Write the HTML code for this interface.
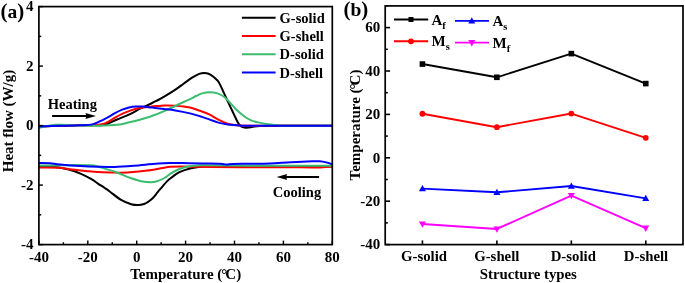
<!DOCTYPE html>
<html><head><meta charset="utf-8"><style>
html,body{margin:0;padding:0;background:#fff;width:685px;height:283px;overflow:hidden}
svg{display:block;will-change:transform}
.t{font-family:"Liberation Serif",serif;font-weight:bold;font-size:15px;fill:#000}
.s{font-size:10.5px}
.pp{font-size:21px}
.p{font-family:"Liberation Serif",serif;font-weight:bold;font-size:19.5px;fill:#000}
.l{font-family:"Liberation Serif",serif;font-weight:bold;font-size:14.5px;fill:#000}
</style></head><body>
<svg width="685" height="283" viewBox="0 0 685 283">
<path d="M39.00,166.00 C40.83,166.07 46.63,166.15 50.00,166.40 C53.37,166.65 55.90,166.93 59.20,167.50 C62.50,168.07 66.27,168.78 69.80,169.80 C73.33,170.82 76.87,172.08 80.40,173.60 C83.93,175.12 88.07,177.23 91.00,178.90 C93.93,180.57 95.72,182.08 98.00,183.60 C100.28,185.12 102.70,186.65 104.70,188.00 C106.70,189.35 107.35,189.77 110.00,191.70 C112.65,193.63 117.07,197.52 120.60,199.60 C124.13,201.68 128.20,203.30 131.20,204.20 C134.20,205.10 136.47,205.03 138.60,205.00 C140.73,204.97 142.58,204.42 144.00,204.00 C145.42,203.58 145.70,203.42 147.10,202.50 C148.50,201.58 150.63,200.22 152.40,198.50 C154.17,196.78 155.93,194.32 157.70,192.20 C159.47,190.08 161.42,187.65 163.00,185.80 C164.58,183.95 165.88,182.40 167.20,181.10 C168.52,179.80 168.87,179.48 170.90,178.00 C172.93,176.52 176.22,173.78 179.40,172.20 C182.58,170.62 186.82,169.37 190.00,168.50 C193.18,167.63 195.17,167.37 198.50,167.00 C201.83,166.63 201.42,166.42 210.00,166.30 C218.58,166.18 229.67,166.28 250.00,166.30 C270.33,166.32 318.33,166.38 332.00,166.40" fill="none" stroke="#000000" stroke-width="2" stroke-linejoin="round"/>
<path d="M39.00,167.50 C42.37,167.53 54.07,167.40 59.20,167.70 C64.33,168.00 65.38,168.77 69.80,169.30 C74.22,169.83 81.00,170.45 85.70,170.90 C90.40,171.35 93.22,171.73 98.00,172.00 C102.78,172.27 110.73,172.38 114.40,172.50 C118.07,172.62 116.42,172.83 120.00,172.70 C123.58,172.57 130.60,172.13 135.90,171.70 C141.20,171.27 147.38,170.72 151.80,170.10 C156.22,169.48 159.22,168.55 162.40,168.00 C165.58,167.45 167.37,167.03 170.90,166.80 C174.43,166.57 179.58,166.60 183.60,166.60 C187.62,166.60 190.60,166.73 195.00,166.80 C199.40,166.87 202.50,166.93 210.00,167.00 C217.50,167.07 225.00,167.15 240.00,167.20 C255.00,167.25 287.00,167.27 300.00,167.30 C313.00,167.33 312.67,167.53 318.00,167.40 C323.33,167.27 329.67,166.65 332.00,166.50" fill="none" stroke="#ff0000" stroke-width="2" stroke-linejoin="round"/>
<path d="M39.00,165.60 C42.50,165.55 54.00,165.38 60.00,165.30 C66.00,165.22 70.00,165.10 75.00,165.10 C80.00,165.10 86.33,165.12 90.00,165.30 C93.67,165.48 94.55,165.65 97.00,166.20 C99.45,166.75 101.80,167.72 104.70,168.60 C107.60,169.48 111.85,170.63 114.40,171.50 C116.95,172.37 117.30,172.72 120.00,173.80 C122.70,174.88 127.07,176.77 130.60,178.00 C134.13,179.23 137.83,180.50 141.20,181.20 C144.57,181.90 148.15,182.20 150.80,182.20 C153.45,182.20 154.82,181.90 157.10,181.20 C159.38,180.50 162.20,179.32 164.50,178.00 C166.80,176.68 168.42,174.80 170.90,173.30 C173.38,171.80 176.57,170.15 179.40,169.00 C182.23,167.85 184.80,167.00 187.90,166.40 C191.00,165.80 195.15,165.58 198.00,165.40 C200.85,165.22 194.67,165.25 205.00,165.30 C215.33,165.35 238.83,165.63 260.00,165.70 C281.17,165.77 320.00,165.70 332.00,165.70" fill="none" stroke="#3cbc6e" stroke-width="2" stroke-linejoin="round"/>
<path d="M39.00,163.00 C40.83,163.03 46.50,162.95 50.00,163.20 C53.50,163.45 54.93,164.02 60.00,164.50 C65.07,164.98 74.07,165.72 80.40,166.10 C86.73,166.48 92.33,166.67 98.00,166.80 C103.67,166.93 108.43,167.08 114.40,166.90 C120.37,166.72 127.03,166.22 133.80,165.70 C140.57,165.18 149.07,164.27 155.00,163.80 C160.93,163.33 163.77,163.00 169.40,162.90 C175.03,162.80 182.87,163.10 188.80,163.20 C194.73,163.30 199.80,163.40 205.00,163.50 C210.20,163.60 216.38,163.65 220.00,163.80 C223.62,163.95 224.53,164.38 226.70,164.40 C228.87,164.42 229.12,164.00 233.00,163.90 C236.88,163.80 243.83,163.87 250.00,163.80 C256.17,163.73 263.13,163.77 270.00,163.50 C276.87,163.23 284.13,162.57 291.20,162.20 C298.27,161.83 307.63,161.45 312.40,161.30 C317.17,161.15 317.50,161.12 319.80,161.30 C322.10,161.48 324.17,161.93 326.20,162.40 C328.23,162.87 331.03,163.82 332.00,164.10" fill="none" stroke="#0000ff" stroke-width="2" stroke-linejoin="round"/>
<path d="M39.00,126.40 C42.50,126.30 53.17,125.98 60.00,125.80 C66.83,125.62 73.57,125.38 80.00,125.30 C86.43,125.22 94.47,125.42 98.60,125.30 C102.73,125.18 101.72,125.57 104.80,124.60 C107.88,123.63 112.98,121.22 117.10,119.50 C121.22,117.78 125.58,116.15 129.50,114.30 C133.42,112.45 136.98,110.20 140.60,108.40 C144.22,106.60 148.45,104.82 151.20,103.50 C153.95,102.18 154.95,101.63 157.10,100.50 C159.25,99.37 161.05,98.52 164.10,96.70 C167.15,94.88 172.10,91.80 175.40,89.60 C178.70,87.40 181.12,85.48 183.90,83.50 C186.68,81.52 189.57,79.30 192.10,77.70 C194.63,76.10 196.98,74.70 199.10,73.90 C201.22,73.10 202.92,72.78 204.80,72.90 C206.68,73.02 208.28,73.33 210.40,74.60 C212.52,75.87 215.82,78.67 217.50,80.50 C219.18,82.33 219.42,83.48 220.50,85.60 C221.58,87.72 222.75,90.50 224.00,93.20 C225.25,95.90 226.67,98.95 228.00,101.80 C229.33,104.65 230.67,107.47 232.00,110.30 C233.33,113.13 234.85,116.48 236.00,118.80 C237.15,121.12 237.98,122.90 238.90,124.20 C239.82,125.50 240.57,126.05 241.50,126.60 C242.43,127.15 243.42,127.33 244.50,127.50 C245.58,127.67 246.60,127.72 248.00,127.60 C249.40,127.48 250.90,127.07 252.90,126.80 C254.90,126.53 256.32,126.18 260.00,126.00 C263.68,125.82 263.00,125.73 275.00,125.70 C287.00,125.67 322.50,125.78 332.00,125.80" fill="none" stroke="#000000" stroke-width="2" stroke-linejoin="round"/>
<path d="M39.00,126.40 C42.50,126.30 53.17,125.98 60.00,125.80 C66.83,125.62 74.60,125.40 80.00,125.30 C85.40,125.20 88.27,125.52 92.40,125.20 C96.53,124.88 101.03,124.67 104.80,123.40 C108.57,122.13 112.12,119.18 115.00,117.60 C117.88,116.02 119.75,114.98 122.10,113.90 C124.45,112.82 126.75,111.97 129.10,111.10 C131.45,110.23 133.83,109.28 136.20,108.70 C138.57,108.12 140.95,107.93 143.30,107.60 C145.65,107.27 148.02,106.95 150.30,106.70 C152.58,106.45 154.70,106.28 157.00,106.10 C159.30,105.92 161.03,105.65 164.10,105.60 C167.17,105.55 171.08,105.47 175.40,105.80 C179.72,106.13 185.90,106.77 190.00,107.60 C194.10,108.43 196.80,109.68 200.00,110.80 C203.20,111.92 206.13,112.82 209.20,114.30 C212.27,115.78 215.33,118.13 218.40,119.70 C221.47,121.27 224.53,122.77 227.60,123.70 C230.67,124.63 233.73,124.95 236.80,125.30 C239.87,125.65 242.13,125.72 246.00,125.80 C249.87,125.88 245.67,125.80 260.00,125.80 C274.33,125.80 320.00,125.80 332.00,125.80" fill="none" stroke="#ff0000" stroke-width="2" stroke-linejoin="round"/>
<path d="M39.00,128.00 C40.17,127.72 43.33,126.83 46.00,126.30 C48.67,125.77 51.83,125.02 55.00,124.80 C58.17,124.58 60.83,124.88 65.00,125.00 C69.17,125.12 74.40,125.38 80.00,125.50 C85.60,125.62 92.42,125.82 98.60,125.70 C104.78,125.58 111.95,125.37 117.10,124.80 C122.25,124.23 125.68,123.15 129.50,122.30 C133.32,121.45 136.38,120.70 140.00,119.70 C143.62,118.70 147.18,117.73 151.20,116.30 C155.22,114.87 159.58,113.07 164.10,111.10 C168.62,109.13 173.98,106.50 178.30,104.50 C182.62,102.50 187.05,100.52 190.00,99.10 C192.95,97.68 194.00,96.95 196.00,96.00 C198.00,95.05 199.72,94.03 202.00,93.40 C204.28,92.77 207.12,92.20 209.70,92.20 C212.28,92.20 214.95,92.52 217.50,93.40 C220.05,94.28 222.00,94.95 225.00,97.50 C228.00,100.05 232.25,105.53 235.50,108.70 C238.75,111.87 241.92,114.57 244.50,116.50 C247.08,118.43 248.75,119.32 251.00,120.30 C253.25,121.28 255.50,121.80 258.00,122.40 C260.50,123.00 263.20,123.48 266.00,123.90 C268.80,124.32 271.97,124.60 274.80,124.90 C277.63,125.20 273.47,125.55 283.00,125.70 C292.53,125.85 323.83,125.78 332.00,125.80" fill="none" stroke="#3cbc6e" stroke-width="2" stroke-linejoin="round"/>
<path d="M39.00,126.40 C42.50,126.30 53.17,125.98 60.00,125.80 C66.83,125.62 74.60,125.53 80.00,125.30 C85.40,125.07 88.55,125.32 92.40,124.40 C96.25,123.48 100.33,121.08 103.10,119.80 C105.87,118.52 107.02,117.80 109.00,116.70 C110.98,115.60 112.82,114.37 115.00,113.20 C117.18,112.03 119.75,110.67 122.10,109.70 C124.45,108.73 126.75,107.93 129.10,107.40 C131.45,106.87 133.83,106.63 136.20,106.50 C138.57,106.37 140.95,106.45 143.30,106.60 C145.65,106.75 148.35,107.18 150.30,107.40 C152.25,107.62 152.70,107.63 155.00,107.90 C157.30,108.17 160.70,108.57 164.10,109.00 C167.50,109.43 171.08,109.77 175.40,110.50 C179.72,111.23 185.90,112.45 190.00,113.40 C194.10,114.35 196.80,115.20 200.00,116.20 C203.20,117.20 206.13,118.33 209.20,119.40 C212.27,120.47 215.33,121.77 218.40,122.60 C221.47,123.43 224.00,123.92 227.60,124.40 C231.20,124.88 236.27,125.27 240.00,125.50 C243.73,125.73 234.67,125.75 250.00,125.80 C265.33,125.85 318.33,125.80 332.00,125.80" fill="none" stroke="#0000ff" stroke-width="2" stroke-linejoin="round"/>
<rect x="38.9" y="6.6" width="293.4" height="238.0" fill="none" stroke="#000" stroke-width="1.7"/>
<line x1="38.90" y1="244.6" x2="38.90" y2="240.60" stroke="#000" stroke-width="1.45"/>
<text x="38.90" y="261.5" text-anchor="middle" class="t">-40</text>
<line x1="63.35" y1="244.6" x2="63.35" y2="242.30" stroke="#000" stroke-width="1.45"/>
<line x1="87.80" y1="244.6" x2="87.80" y2="240.60" stroke="#000" stroke-width="1.45"/>
<text x="87.80" y="261.5" text-anchor="middle" class="t">-20</text>
<line x1="112.25" y1="244.6" x2="112.25" y2="242.30" stroke="#000" stroke-width="1.45"/>
<line x1="136.70" y1="244.6" x2="136.70" y2="240.60" stroke="#000" stroke-width="1.45"/>
<text x="136.70" y="261.5" text-anchor="middle" class="t">0</text>
<line x1="161.15" y1="244.6" x2="161.15" y2="242.30" stroke="#000" stroke-width="1.45"/>
<line x1="185.60" y1="244.6" x2="185.60" y2="240.60" stroke="#000" stroke-width="1.45"/>
<text x="185.60" y="261.5" text-anchor="middle" class="t">20</text>
<line x1="210.05" y1="244.6" x2="210.05" y2="242.30" stroke="#000" stroke-width="1.45"/>
<line x1="234.50" y1="244.6" x2="234.50" y2="240.60" stroke="#000" stroke-width="1.45"/>
<text x="234.50" y="261.5" text-anchor="middle" class="t">40</text>
<line x1="258.95" y1="244.6" x2="258.95" y2="242.30" stroke="#000" stroke-width="1.45"/>
<line x1="283.40" y1="244.6" x2="283.40" y2="240.60" stroke="#000" stroke-width="1.45"/>
<text x="283.40" y="261.5" text-anchor="middle" class="t">60</text>
<line x1="307.85" y1="244.6" x2="307.85" y2="242.30" stroke="#000" stroke-width="1.45"/>
<line x1="332.30" y1="244.6" x2="332.30" y2="240.60" stroke="#000" stroke-width="1.45"/>
<text x="332.30" y="261.5" text-anchor="middle" class="t">80</text>
<line x1="38.9" y1="244.60" x2="42.90" y2="244.60" stroke="#000" stroke-width="1.45"/>
<text x="33.5" y="249.40" text-anchor="end" class="t">-4</text>
<line x1="38.9" y1="214.85" x2="41.20" y2="214.85" stroke="#000" stroke-width="1.45"/>
<line x1="38.9" y1="185.10" x2="42.90" y2="185.10" stroke="#000" stroke-width="1.45"/>
<text x="33.5" y="189.90" text-anchor="end" class="t">-2</text>
<line x1="38.9" y1="155.35" x2="41.20" y2="155.35" stroke="#000" stroke-width="1.45"/>
<line x1="38.9" y1="125.60" x2="42.90" y2="125.60" stroke="#000" stroke-width="1.45"/>
<text x="33.5" y="130.40" text-anchor="end" class="t">0</text>
<line x1="38.9" y1="95.85" x2="41.20" y2="95.85" stroke="#000" stroke-width="1.45"/>
<line x1="38.9" y1="66.10" x2="42.90" y2="66.10" stroke="#000" stroke-width="1.45"/>
<text x="33.5" y="70.90" text-anchor="end" class="t">2</text>
<line x1="38.9" y1="36.35" x2="41.20" y2="36.35" stroke="#000" stroke-width="1.45"/>
<line x1="38.9" y1="6.60" x2="42.90" y2="6.60" stroke="#000" stroke-width="1.45"/>
<text x="33.5" y="11.40" text-anchor="end" class="t">4</text>
<text x="185.7" y="279.1" text-anchor="middle" class="t">Temperature (<tspan dx="-1">&#176;</tspan><tspan dx="-2">C</tspan>)</text>
<text transform="translate(13.3,121) rotate(-90)" text-anchor="middle" class="t">Heat flow (W/g)</text>
<text x="0.6" y="17.5" class="p"><tspan class="pp">(</tspan>a<tspan class="pp">)</tspan></text>
<line x1="241.9" y1="17.75" x2="275.6" y2="17.75" stroke="#000000" stroke-width="2"/>
<text x="279.6" y="22.60" class="l">G-solid</text>
<line x1="241.9" y1="36.05" x2="275.6" y2="36.05" stroke="#ff0000" stroke-width="2"/>
<text x="279.6" y="41.00" class="l">G-shell</text>
<line x1="241.9" y1="54.30" x2="275.6" y2="54.30" stroke="#3cbc6e" stroke-width="2"/>
<text x="279.6" y="59.40" class="l">D-solid</text>
<line x1="241.9" y1="72.60" x2="275.6" y2="72.60" stroke="#0000ff" stroke-width="2"/>
<text x="279.6" y="77.80" class="l">D-shell</text>
<text x="47.8" y="109.1" class="l">Heating</text>
<line x1="52.1" y1="115.9" x2="88" y2="115.9" stroke="#000" stroke-width="2"/>
<path d="M96,115.9 L85.4,112.9 L86.6,115.9 L85.4,118.9 Z" fill="#000"/>
<text x="272.8" y="196.6" class="l">Cooling</text>
<line x1="283" y1="177.1" x2="319.1" y2="177.1" stroke="#000" stroke-width="2"/>
<path d="M276.6,177.1 L287.2,174.1 L286,177.1 L287.2,180.1 Z" fill="#000"/>
<polyline points="422.43,64.06 496.88,77.29 571.33,53.64 645.77,83.59" fill="none" stroke="#000000" stroke-width="1.9" stroke-linejoin="round"/>
<rect x="419.62" y="61.26" width="5.6" height="5.6" fill="#000000"/>
<rect x="494.07" y="74.49" width="5.6" height="5.6" fill="#000000"/>
<rect x="568.53" y="50.84" width="5.6" height="5.6" fill="#000000"/>
<rect x="642.98" y="80.79" width="5.6" height="5.6" fill="#000000"/>
<polyline points="422.43,113.75 496.88,127.20 571.33,113.53 645.77,137.84" fill="none" stroke="#ff0000" stroke-width="1.9" stroke-linejoin="round"/>
<circle cx="422.43" cy="113.75" r="2.9" fill="#ff0000"/>
<circle cx="496.88" cy="127.20" r="2.9" fill="#ff0000"/>
<circle cx="571.33" cy="113.53" r="2.9" fill="#ff0000"/>
<circle cx="645.77" cy="137.84" r="2.9" fill="#ff0000"/>
<polyline points="422.43,188.61 496.88,192.30 571.33,186.01 645.77,198.38" fill="none" stroke="#0000ff" stroke-width="1.9" stroke-linejoin="round"/>
<path d="M422.43,185.01 L418.93,191.31 L425.93,191.31 Z" fill="#0000ff"/>
<path d="M496.88,188.70 L493.38,195.00 L500.38,195.00 Z" fill="#0000ff"/>
<path d="M571.33,182.41 L567.83,188.71 L574.83,188.71 Z" fill="#0000ff"/>
<path d="M645.77,194.78 L642.27,201.08 L649.27,201.08 Z" fill="#0000ff"/>
<polyline points="422.43,223.98 496.88,228.98 571.33,195.56 645.77,228.11" fill="none" stroke="#ff00ff" stroke-width="1.9" stroke-linejoin="round"/>
<path d="M422.43,227.78 L418.93,221.38 L425.93,221.38 Z" fill="#ff00ff"/>
<path d="M496.88,232.78 L493.38,226.38 L500.38,226.38 Z" fill="#ff00ff"/>
<path d="M571.33,199.36 L567.83,192.96 L574.83,192.96 Z" fill="#ff00ff"/>
<path d="M645.77,231.91 L642.27,225.51 L649.27,225.51 Z" fill="#ff00ff"/>
<rect x="385.2" y="5.9" width="297.8" height="238.7" fill="none" stroke="#000" stroke-width="1.7"/>
<line x1="385.2" y1="244.60" x2="390.10" y2="244.60" stroke="#000" stroke-width="1.6"/>
<text x="380.2" y="249.40" text-anchor="end" class="t">-40</text>
<line x1="385.2" y1="222.90" x2="387.80" y2="222.90" stroke="#000" stroke-width="1.6"/>
<line x1="385.2" y1="201.20" x2="390.10" y2="201.20" stroke="#000" stroke-width="1.6"/>
<text x="380.2" y="206.00" text-anchor="end" class="t">-20</text>
<line x1="385.2" y1="179.50" x2="387.80" y2="179.50" stroke="#000" stroke-width="1.6"/>
<line x1="385.2" y1="157.80" x2="390.10" y2="157.80" stroke="#000" stroke-width="1.6"/>
<text x="380.2" y="162.60" text-anchor="end" class="t">0</text>
<line x1="385.2" y1="136.10" x2="387.80" y2="136.10" stroke="#000" stroke-width="1.6"/>
<line x1="385.2" y1="114.40" x2="390.10" y2="114.40" stroke="#000" stroke-width="1.6"/>
<text x="380.2" y="119.20" text-anchor="end" class="t">20</text>
<line x1="385.2" y1="92.70" x2="387.80" y2="92.70" stroke="#000" stroke-width="1.6"/>
<line x1="385.2" y1="71.00" x2="390.10" y2="71.00" stroke="#000" stroke-width="1.6"/>
<text x="380.2" y="75.80" text-anchor="end" class="t">40</text>
<line x1="385.2" y1="49.30" x2="387.80" y2="49.30" stroke="#000" stroke-width="1.6"/>
<line x1="385.2" y1="27.60" x2="390.10" y2="27.60" stroke="#000" stroke-width="1.6"/>
<text x="380.2" y="32.40" text-anchor="end" class="t">60</text>
<line x1="385.2" y1="5.90" x2="387.80" y2="5.90" stroke="#000" stroke-width="1.6"/>
<line x1="422.43" y1="244.6" x2="422.43" y2="240.4" stroke="#000" stroke-width="1.6"/>
<text x="424.00" y="260.5" text-anchor="middle" class="t" style="font-size:14.8px">G-solid</text>
<line x1="496.88" y1="244.6" x2="496.88" y2="240.4" stroke="#000" stroke-width="1.6"/>
<text x="496.80" y="260.5" text-anchor="middle" class="t" style="font-size:14.8px">G-shell</text>
<line x1="571.33" y1="244.6" x2="571.33" y2="240.4" stroke="#000" stroke-width="1.6"/>
<text x="573.30" y="260.5" text-anchor="middle" class="t" style="font-size:14.8px">D-solid</text>
<line x1="645.77" y1="244.6" x2="645.77" y2="240.4" stroke="#000" stroke-width="1.6"/>
<text x="646.00" y="260.5" text-anchor="middle" class="t" style="font-size:14.8px">D-shell</text>
<text x="528.3" y="278.9" text-anchor="middle" class="t" style="font-size:14.8px">Structure types</text>
<text transform="translate(360.3,125) rotate(-90)" text-anchor="middle" class="t">Temperature (<tspan dx="-1">&#176;</tspan><tspan dx="-2">C</tspan>)</text>
<text x="343.5" y="15.5" class="p"><tspan class="pp">(</tspan>b<tspan class="pp">)</tspan></text>
<line x1="394" y1="19.5" x2="428.2" y2="19.5" stroke="#000" stroke-width="1.9"/>
<rect x="408.50" y="17.00" width="5" height="5" fill="#000000"/>
<text x="431.5" y="24.6" class="t">A<tspan class="s" dy="4.3">f</tspan></text>
<line x1="455" y1="20.9" x2="489" y2="20.9" stroke="#0000ff" stroke-width="1.9"/>
<path d="M471.80,17.30 L468.30,23.60 L475.30,23.60 Z" fill="#0000ff"/>
<text x="492.5" y="26" class="t">A<tspan class="s" dy="4">s</tspan></text>
<line x1="394" y1="41.3" x2="428.2" y2="41.3" stroke="#ff0000" stroke-width="1.9"/>
<circle cx="411.00" cy="41.30" r="2.9" fill="#ff0000"/>
<text x="431.5" y="46.2" class="t">M<tspan class="s" dy="3.3">s</tspan></text>
<line x1="455" y1="42.6" x2="489" y2="42.6" stroke="#ff00ff" stroke-width="1.9"/>
<path d="M471.80,46.40 L468.30,40.00 L475.30,40.00 Z" fill="#ff00ff"/>
<text x="492.5" y="47.6" class="t">M<tspan class="s" dy="4">f</tspan></text>
</svg>
</body></html>
